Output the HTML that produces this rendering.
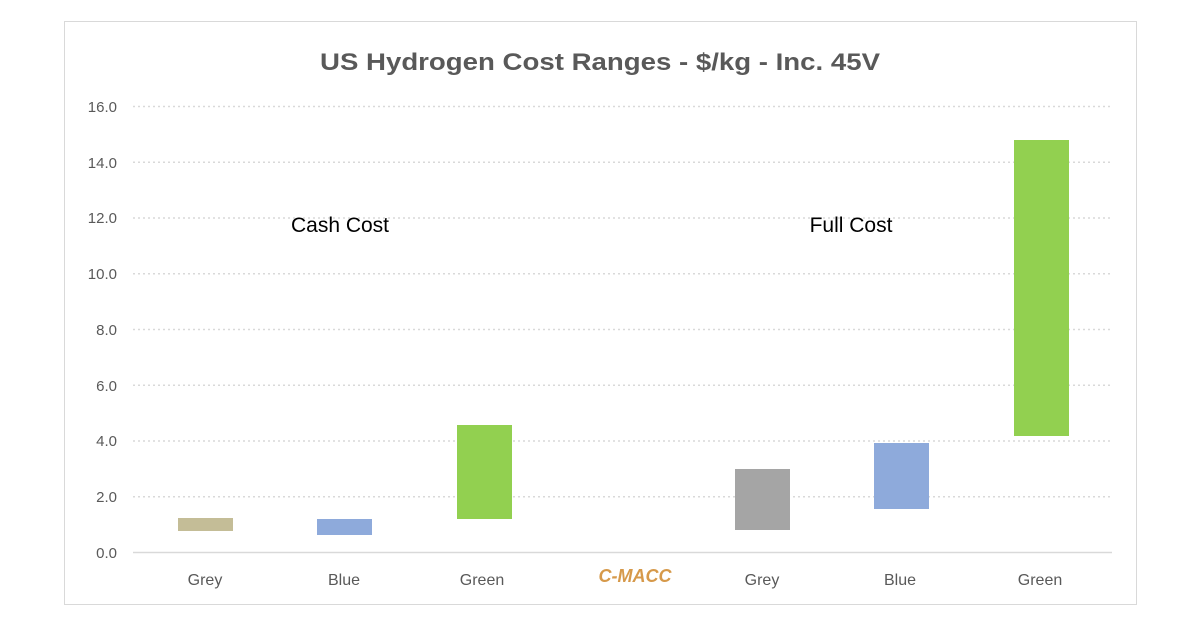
<!DOCTYPE html>
<html><head><style>
body{margin:0;background:#fff;}
</style></head><body>
<svg width="1200" height="627" xmlns="http://www.w3.org/2000/svg" font-family="Liberation Sans, sans-serif">
<rect x="0" y="0" width="1200" height="627" fill="#fff"/>
<rect x="64.5" y="21.5" width="1072" height="583" fill="#fff" stroke="#d9d9d9" stroke-width="1"/>
<text x="600" y="70" text-anchor="middle" font-size="24" font-weight="bold" fill="#595959" textLength="560" lengthAdjust="spacingAndGlyphs">US Hydrogen Cost Ranges - $/kg - Inc. 45V</text>
<g stroke="#d9d9d9" stroke-width="1.5" stroke-dasharray="2,3">
<line x1="133" x2="1112" y1="106.5" y2="106.5"/>
<line x1="133" x2="1112" y1="162.2" y2="162.2"/>
<line x1="133" x2="1112" y1="218" y2="218"/>
<line x1="133" x2="1112" y1="273.7" y2="273.7"/>
<line x1="133" x2="1112" y1="329.5" y2="329.5"/>
<line x1="133" x2="1112" y1="385.2" y2="385.2"/>
<line x1="133" x2="1112" y1="441" y2="441"/>
<line x1="133" x2="1112" y1="496.7" y2="496.7"/>
</g>
<line x1="133" x2="1112" y1="552.5" y2="552.5" stroke="#d9d9d9" stroke-width="1.5"/>
<g font-size="15" fill="#595959" text-anchor="end">
<text x="117" y="112">16.0</text><text x="117" y="168">14.0</text><text x="117" y="223">12.0</text>
<text x="117" y="279">10.0</text><text x="117" y="335">8.0</text><text x="117" y="391">6.0</text>
<text x="117" y="446">4.0</text><text x="117" y="502">2.0</text><text x="117" y="558">0.0</text>
</g>
<rect x="178" y="518" width="55" height="13" fill="#c4bd97"/>
<rect x="317" y="519" width="55" height="16" fill="#8eaadb"/>
<rect x="457" y="425" width="55" height="94" fill="#92d050"/>
<rect x="735" y="469" width="55" height="61" fill="#a5a5a5"/>
<rect x="874" y="443" width="55" height="66" fill="#8eaadb"/>
<rect x="1014" y="140" width="55" height="296" fill="#92d050"/>
<g font-size="16" fill="#595959" text-anchor="middle">
<text x="205" y="585">Grey</text><text x="344" y="585">Blue</text><text x="482" y="585">Green</text>
<text x="762" y="585">Grey</text><text x="900" y="585">Blue</text><text x="1040" y="585">Green</text>
</g>
<text x="635" y="582" text-anchor="middle" font-size="18" font-weight="bold" font-style="italic" fill="#d6994a">C-MACC</text>
<text x="340" y="232" text-anchor="middle" font-size="21" fill="#000">Cash Cost</text>
<text x="851" y="232" text-anchor="middle" font-size="21" fill="#000">Full Cost</text>
</svg>
</body></html>
